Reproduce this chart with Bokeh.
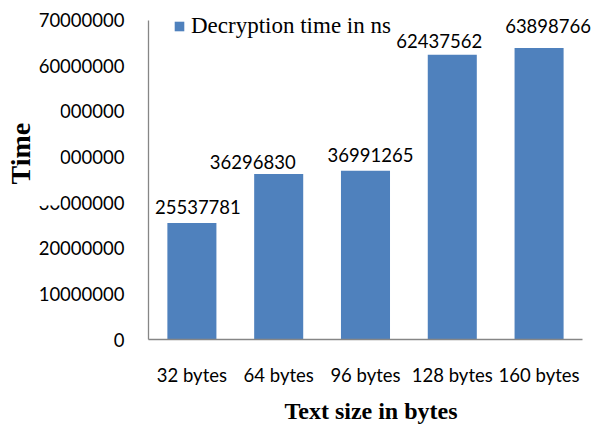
from bokeh.plotting import figure
from bokeh.models import (ColumnDataSource, LabelSet, Legend, LegendItem, Title,
                          FixedTicker, NumeralTickFormatter, Range1d)
from bokeh.core.properties import value
from bokeh.embed import file_html
from bokeh.resources import INLINE

# ---- data ----
categories = ["32 bytes", "64 bytes", "96 bytes", "128 bytes", "160 bytes"]
decryption_ns = [25537781, 36296830, 36991265, 62437562, 63898766]
y_ticks = [0, 10000000, 20000000, 30000000, 40000000, 50000000, 60000000, 70000000]
series_name = "Decryption time in ns"
x_title = "Text size in bytes"
y_title = "Time"

# ---- layout / style (not data) ----
label_dx = [6, -26, 5, -13, 9]      # pixel nudges of the data labels, as in the original
label_dy = [16, 12, 16, 14, 22]
BAR_COLOR = "#4F81BD"
AXIS_COLOR = "#868686"
SANS = "Lato"
SERIF = "Liberation Serif"
N = len(categories)
X_VIEW_END = N * 1.0254          # a little room right of the axis for the last label
Y_VIEW_END = y_ticks[-1] * 1.049  # a little room above the axis for legend / labels

xpos = [i + 0.5 for i in range(N)]

src = ColumnDataSource(dict(
    x=xpos,
    val=decryption_ns,
    txt=[str(v) for v in decryption_ns],
    dx=label_dx,
    dy=label_dy,
))

p = figure(width=593, height=427,
           x_range=Range1d(0, X_VIEW_END),
           y_range=Range1d(0, Y_VIEW_END),
           output_backend="svg", toolbar_location=None,
           min_border_left=148, min_border_right=0,
           min_border_top=4, min_border_bottom=88)

p.outline_line_color = None
p.xgrid.visible = False
p.ygrid.visible = False

r = p.vbar(x="x", top="val", width=0.565, source=src,
           fill_color=BAR_COLOR, line_color=None)

# axes
for ax in (p.xaxis[0], p.yaxis[0]):
    ax.axis_line_color = AXIS_COLOR
    ax.axis_line_width = 1.3
    ax.major_tick_out = 0
    ax.major_tick_in = 0
    ax.minor_tick_out = 0
    ax.minor_tick_in = 0
    ax.major_label_text_font = SANS
    ax.major_label_text_font_size = "18.5px"
    ax.major_label_text_color = "black"

p.yaxis.ticker = FixedTicker(ticks=y_ticks)
p.yaxis.formatter = NumeralTickFormatter(format="0")
p.yaxis.major_label_standoff = 24
p.yaxis.bounds = (0, y_ticks[-1])

p.xaxis.ticker = FixedTicker(ticks=xpos)
p.xaxis.major_label_overrides = {x: c for x, c in zip(xpos, categories)}
p.xaxis.major_label_standoff = 24
p.xaxis.bounds = (0, N)
p.xaxis.axis_label = x_title
p.xaxis.axis_label_standoff = 9
p.xaxis.axis_label_text_font = SERIF
p.xaxis.axis_label_text_font_style = "bold"
p.xaxis.axis_label_text_font_size = "24px"
p.xaxis.axis_label_text_color = "black"

# y title, its white box overlapping the tick labels as in the original
p.add_layout(Title(text=y_title, align="left", offset=134, vertical_align="bottom",
                   standoff=-50, text_font=SERIF, text_font_style="bold",
                   text_font_size="28px", text_color="black",
                   background_fill_color="white", padding=(21, 25)), "left")

# data labels
labels = LabelSet(x="x", y="val", text="txt", source=src,
                  x_offset="dx", y_offset="dy",
                  text_align="center", text_baseline="middle",
                  text_font=value(SANS), text_font_size=value("18.5px"),
                  text_color="black")
p.add_layout(labels)

# legend
legend = Legend(items=[LegendItem(label=series_name, renderers=[r])],
                location=(25, 300), padding=0, margin=0, spacing=0,
                glyph_width=12, glyph_height=12, label_standoff=6,
                label_text_font=SERIF, label_text_font_size="23px",
                label_text_color="black",
                border_line_color=None, background_fill_alpha=0)
p.add_layout(legend)

open("out.html", "w").write(file_html(p, INLINE))
